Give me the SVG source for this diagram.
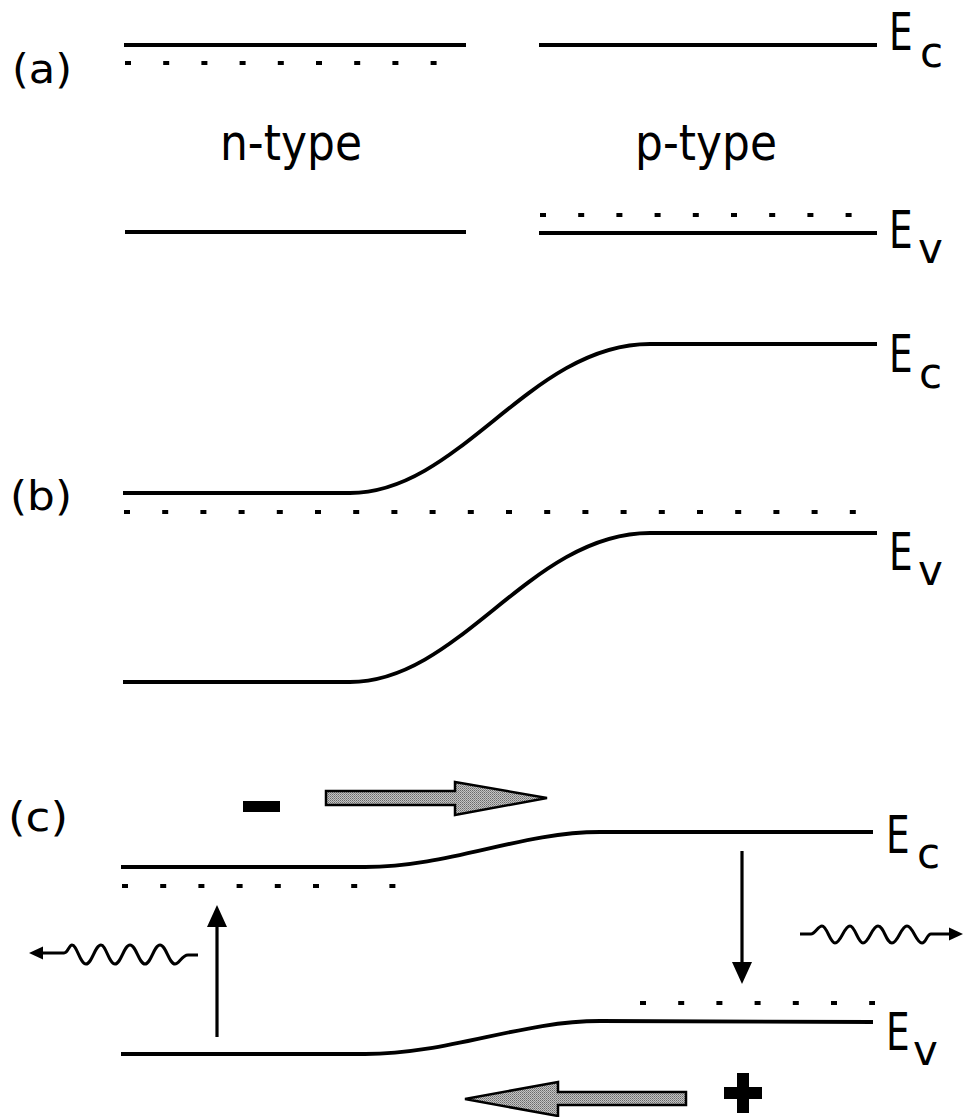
<svg xmlns="http://www.w3.org/2000/svg" width="965" height="1117" viewBox="0 0 965 1117">
  <style>
    .band { fill: none; stroke: #000; stroke-width: 3.8; }
    .dots { fill: none; stroke: #000; stroke-width: 4; stroke-dasharray: 6 32.2; }
    .thin { fill: none; stroke: #000; stroke-width: 3.2; }
    .wave { fill: none; stroke: #000; stroke-width: 3; }
    .lbl { font-family: "DejaVu Sans", "Liberation Sans", sans-serif; fill: #000; }
    .big { font-size: 52px; }
    .sub { font-size: 42px; }
    .panel { font-size: 41px; }
    .typ { font-size: 50px; }
    .fat { fill: url(#stipple); stroke: #000; stroke-width: 2.5; stroke-linejoin: miter; }
  </style>
  <defs>
    <pattern id="stipple" patternUnits="userSpaceOnUse" width="2" height="2">
      <rect x="0" y="0" width="2" height="2" fill="#c4c4c4"/>
      <rect x="0" y="0" width="1" height="1" fill="#6a6a6a"/>
      <rect x="1" y="1" width="1" height="1" fill="#8a8a8a"/>
    </pattern>
    <marker id="headBig" markerUnits="userSpaceOnUse" markerWidth="24" markerHeight="22" refX="0" refY="10" orient="auto" overflow="visible">
      <path d="M0,0 L22,10 L0,20 z" fill="#000"/>
    </marker>
    <marker id="headSmall" markerUnits="userSpaceOnUse" markerWidth="16" markerHeight="14" refX="0" refY="6.5" orient="auto" overflow="visible">
      <path d="M0,0 L14,6.5 L0,13 z" fill="#000"/>
    </marker>
  </defs>
  <rect x="0" y="0" width="965" height="1117" fill="#fff"/>

  <!-- Panel (a) -->
  <g id="panel-a">
    <text class="lbl panel" x="12" y="83" textLength="60" lengthAdjust="spacingAndGlyphs">(a)</text>
    <line class="band" x1="124" y1="45" x2="466" y2="45"/>
    <line class="dots" x1="125" y1="63" x2="440" y2="63"/>
    <line class="band" x1="125" y1="232" x2="466" y2="232"/>
    <line class="band" x1="539" y1="45" x2="877" y2="45"/>
    <line class="dots" x1="540" y1="215" x2="852" y2="215"/>
    <line class="band" x1="539" y1="233" x2="877" y2="233"/>
    <text class="lbl typ" x="220" y="160" textLength="142" lengthAdjust="spacingAndGlyphs">n-type</text>
    <text class="lbl typ" x="635" y="160" textLength="142" lengthAdjust="spacingAndGlyphs">p-type</text>
    <g id="a-Ec">
      <text class="lbl big" transform="translate(889,50) scale(0.72,1)">E</text>
      <text class="lbl sub" x="920" y="67">c</text>
    </g>
    <g id="a-Ev">
      <text class="lbl big" transform="translate(889,248) scale(0.72,1)">E</text>
      <text class="lbl sub" x="918" y="263">v</text>
    </g>
  </g>

  <!-- Panel (b) -->
  <g id="panel-b">
    <text class="lbl panel" x="10" y="510" textLength="62" lengthAdjust="spacingAndGlyphs">(b)</text>
    <path class="band" d="M123 493 L350 493 C460 493 530 344 650 344 L877 344"/>
    <line class="dots" x1="124" y1="512" x2="857" y2="512"/>
    <path class="band" d="M123 682 L350 682 C460 682 530 533 650 533 L877 533"/>
    <g id="b-Ec">
      <text class="lbl big" transform="translate(889,372) scale(0.72,1)">E</text>
      <text class="lbl sub" x="919" y="388">c</text>
    </g>
    <g id="b-Ev">
      <text class="lbl big" transform="translate(889,570) scale(0.72,1)">E</text>
      <text class="lbl sub" x="918" y="585">v</text>
    </g>
  </g>

  <!-- Panel (c) -->
  <g id="panel-c">
    <text class="lbl panel" x="8" y="831" textLength="60" lengthAdjust="spacingAndGlyphs">(c)</text>
    <path class="band" d="M121 867 L365 867 C450 867 520 832 600 832 L873 832"/>
    <line class="dots" x1="122" y1="886" x2="400" y2="886"/>
    <path class="band" d="M121 1054 L365 1054 C450 1054 520 1021 600 1021 L873 1022"/>
    <line class="dots" x1="640" y1="1003" x2="875" y2="1003"/>
    <g id="c-Ec">
      <text class="lbl big" transform="translate(886,853) scale(0.72,1)">E</text>
      <text class="lbl sub" x="917" y="868">c</text>
    </g>
    <g id="c-Ev">
      <text class="lbl big" transform="translate(886,1050) scale(0.72,1)">E</text>
      <text class="lbl sub" x="913" y="1065">v</text>
    </g>
    <g id="electron-sign">
      <rect x="243" y="801" width="37" height="11" fill="#000"/>
    </g>
    <g id="hole-sign">
      <rect x="724" y="1087" width="38" height="12" fill="#000"/>
      <rect x="737" y="1073" width="12" height="40" fill="#000"/>
    </g>
  </g>

  <!-- Connectors / arrows -->
  <g id="connectors">
    <polygon class="fat" points="326,791 455,791 455,782 547,798 455,815 455,805 326,805"/>
    <polygon class="fat" points="686,1092 558,1092 558,1082 465,1099 558,1116 558,1105 686,1105"/>
    <line class="thin" x1="217" y1="1037" x2="217" y2="927" marker-end="url(#headBig)"/>
    <line class="thin" x1="742" y1="851" x2="742" y2="962" marker-end="url(#headBig)"/>
    <path class="wave" marker-end="url(#headSmall)" d="M198 955 L188 955 C182 955 179 964 175 964 C169 964 166 945 160 945 C154 945 151 964 145 964 C139 964 136 945 130 945 C124 945 121 964 115 964 C109 964 106 945 101 945 C95 945 92 964 86 964 C80 964 77 945 72 945 C69 945 68 953 64 953 L43 953"/>
    <path class="wave" marker-end="url(#headSmall)" d="M800 934 L811 934 C815 934 818 926 822 926 C827 926 830 943 835 943 C841 943 844 926 850 926 C855 926 858 943 863 943 C869 943 872 926 878 926 C884 926 886 943 892 943 C898 943 901 926 907 926 C913 926 916 943 922 943 C926 943 927 934 931 934 L949 934"/>
  </g>
</svg>
